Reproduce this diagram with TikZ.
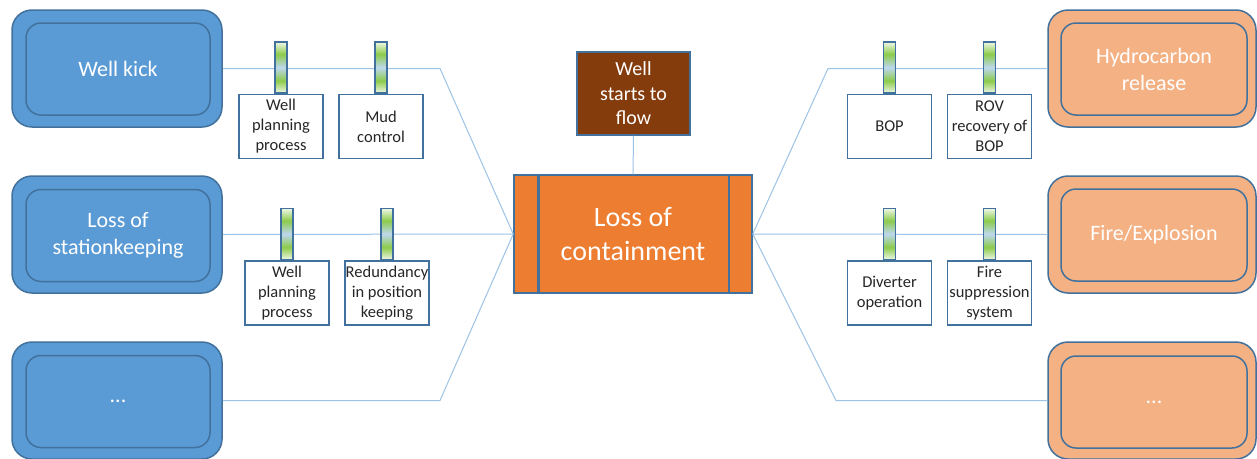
\documentclass[tikz,border=0pt]{standalone}
\usepackage{fontspec}
\setmainfont{Carlito}
\definecolor{edge}{HTML}{41719C}
\definecolor{bluefill}{HTML}{5B9BD5}
\definecolor{peach}{HTML}{F4B183}
\definecolor{orangefill}{HTML}{ED7D31}
\definecolor{brownfill}{HTML}{843C0C}
\definecolor{linkblue}{HTML}{9DC3E6}
\definecolor{barpale}{HTML}{EEF7E6}
\definecolor{bargreen}{HTML}{8CCB4A}
\definecolor{barblue}{HTML}{BDD7EE}
\definecolor{labeltext}{HTML}{262626}
\pgfdeclareverticalshading{barshade}{100bp}{color(0bp)=(barpale); color(25bp)=(barpale); color(37bp)=(bargreen); color(50bp)=(barblue); color(63bp)=(bargreen); color(75bp)=(barpale); color(100bp)=(barpale)}
\tikzset{
  outerbox/.style={draw=edge, line width=1.5pt, rounded corners=20pt, minimum height=117pt, inner sep=0pt},
  innerbox/.style={draw=edge, line width=1.5pt, rounded corners=15pt, minimum height=92pt, inner sep=0pt,
    text=white, align=center, font=\fontsize{22}{27}\selectfont},
  causebox/.style={outerbox, fill=bluefill, minimum width=210pt},
  causein/.style={innerbox, minimum width=184pt},
  effectbox/.style={outerbox, fill=peach, minimum width=208pt},
  effectin/.style={innerbox, minimum width=186pt},
  link/.style={draw=linkblue, line width=1pt},
  barrier/.style={draw=edge, line width=1.4pt, shading=barshade, minimum width=12pt, minimum height=51pt, inner sep=0pt},
  barlabel/.style={draw=edge, line width=1.4pt, fill=white, minimum width=84pt, minimum height=64pt, inner sep=0pt,
    anchor=north, align=center, text=labeltext, font=\fontsize{16.5}{20}\selectfont},
  topevent/.style={draw=edge, line width=1.5pt, fill=orangefill, minimum width=238pt, minimum height=118pt, inner sep=0pt,
    text=white, align=center, font=\fontsize{28}{34}\selectfont},
  hazard/.style={draw=edge, line width=1.5pt, fill=brownfill, minimum width=113pt, minimum height=83pt, inner sep=0pt,
    text=white, align=center, font=\fontsize{20}{24.5}\selectfont},
}
\begin{document}
\begin{tikzpicture}[x=1pt,y=-1pt]
\fill[white] (0,0) rectangle (1257,458);
\useasboundingbox (0,0) rectangle (1257,458);

% threats
\node[causebox] (kick) at (117,68.5) {};
\node[causein] (kick-in) at (118,69) {Well kick};
\node[causebox] (stk) at (117,234.5) {};
\node[causein] (stk-in) at (118,235.5) {Loss of\\stationkeeping};
\node[causebox] (ldots) at (117,400.5) {};
\node[causein] (ldots-in) at (118,401.5) {...};

% consequences
\node[effectbox] (hc) at (1152,68.5) {};
\node[effectin] (hc-in) at (1154,69) {Hydrocarbon\\release};
\node[effectbox] (fire) at (1152,234.5) {};
\node[effectin] (fire-in) at (1154,235) {Fire/Explosion};
\node[effectbox] (rdots) at (1152,400.5) {};
\node[effectin] (rdots-in) at (1154,402) {...};

% top event and hazard
\node[topevent] (loc) at (633,234) {Loss of\\containment};
\draw[edge, line width=2.5pt] ([xshift=25pt]loc.north west) -- ([xshift=25pt]loc.south west);
\draw[edge, line width=1.5pt] ([xshift=-24pt]loc.north east) -- ([xshift=-24pt]loc.south east);
\node[hazard] (flow) at (633.5,93.5) {Well\\starts to\\flow};
\draw[link] (flow.south) -- (loc.north);

% threat lines
\draw[link] (kick.east) -- (440,68.5) -- (loc.west);
\draw[link] (stk.east) -- (loc.west);
\draw[link] (ldots.east) -- (440,400.5) -- (loc.west);

% consequence lines
\draw[link] (loc.east) -- (828,68.5) -- (hc.west);
\draw[link] (loc.east) -- (fire.west);
\draw[link] (loc.east) -- (836,400.5) -- (rdots.west);

% preventive barriers
\node[barrier] (b1) at (281,67.5) {};
\node[barlabel] (b1l) at (b1.south) {Well\\planning\\process};
\node[barrier] (b2) at (381,67.5) {};
\node[barlabel] (b2l) at (b2.south) {Mud\\control};
\node[barrier] (b3) at (287,234) {};
\node[barlabel] (b3l) at (b3.south) {Well\\planning\\process};
\node[barrier] (b4) at (387,234) {};
\node[barlabel] (b4l) at (b4.south) {Redundancy\\in position\\keeping};

% mitigating barriers
\node[barrier] (m1) at (889.5,67.5) {};
\node[barlabel] (m1l) at (m1.south) {BOP};
\node[barrier] (m2) at (989.5,67.5) {};
\node[barlabel] (m2l) at (m2.south) {ROV\\recovery of\\BOP};
\node[barrier] (m3) at (889.5,234) {};
\node[barlabel] (m3l) at (m3.south) {Diverter\\operation};
\node[barrier] (m4) at (989.5,234) {};
\node[barlabel] (m4l) at (m4.south) {Fire\\suppression\\system};
\end{tikzpicture}
\end{document}
